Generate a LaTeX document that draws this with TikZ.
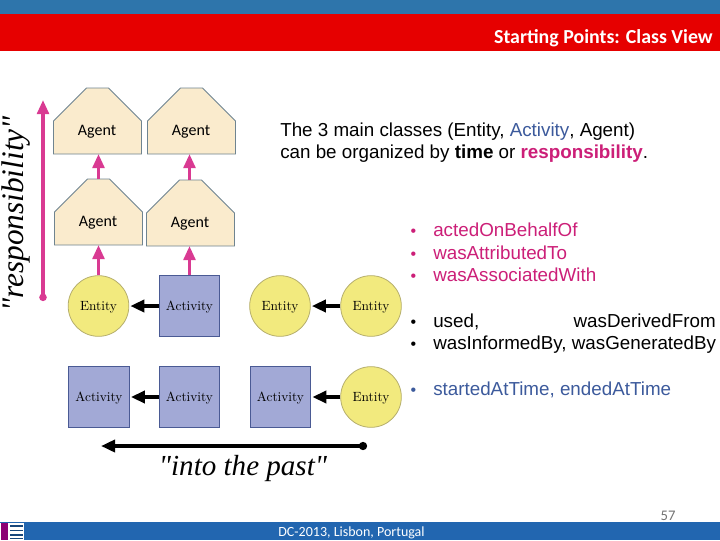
\documentclass[tikz,border=0pt]{standalone}
\usepackage{fontspec}
\setmainfont{Liberation Sans}
\newfontfamily\calfam{Carlito}
\newfontfamily\serfam{Liberation Serif}
\newfontfamily\lmfam{Latin Modern Roman}
\usetikzlibrary{arrows.meta}
\definecolor{topblue}{HTML}{2E75AB}
\definecolor{topred}{HTML}{E60000}
\definecolor{footblue}{HTML}{2266B0}
\definecolor{agentfill}{HTML}{FAEBCD}
\definecolor{agentline}{HTML}{6F8490}
\definecolor{entfill}{HTML}{F2EA7E}
\definecolor{entline}{HTML}{B5AE6C}
\definecolor{actfill}{HTML}{A2A9D6}
\definecolor{actline}{HTML}{4A5A94}
\definecolor{pinkar}{HTML}{D93A92}
\definecolor{pinktx}{HTML}{CC1F78}
\definecolor{bluetx}{HTML}{3C5A9C}
\newcommand{\lowtext}[1]{\raisebox{-3.5pt}[0pt][0pt]{#1}}
\tikzset{
  agentpoly/.style={draw=agentline,fill=agentfill,line width=.7pt},
  agentbox/.style={minimum width=66pt,minimum height=49.5pt,inner sep=0pt,outer sep=0pt},
  agentlab/.style={font=\calfam\fontsize{12}{14}\selectfont,inner sep=0pt},
  entity/.style={circle,draw=entline,fill=entfill,line width=.6pt,minimum size=45.5pt,inner sep=0pt,font=\lmfam\fontsize{10}{12}\selectfont},
  activity/.style={rectangle,draw=actline,fill=actfill,line width=.7pt,minimum width=45.5pt,minimum height=45.5pt,inner sep=0pt,font=\lmfam\fontsize{10}{12}\selectfont},
  pinkarrow/.style={draw=pinkar,line width=2.5pt,-{Triangle[length=10.5pt,width=8.7pt]}},
  blackarrow/.style={draw=black,line width=3pt,-{Triangle[length=10.5pt,width=9pt]},shorten >=.8pt},
  bodytext/.style={anchor=base west,inner sep=0pt,font=\fontsize{14.1}{16}\selectfont},
  bul/.style={anchor=base,inner sep=0pt,font=\fontsize{12}{16}\selectfont},
  bigitalic/.style={inner sep=0pt,font=\serfam\itshape\fontsize{21.8}{24}\selectfont},
}
\newcommand{\agentat}[4]{% name, cx, top y, text y
  \draw[agentpoly] (#2-44,#3+33) -- (#2-11,#3) -- (#2+11,#3) -- (#2+44,#3+33) -- (#2+44,#3+66) -- (#2-44,#3+66) -- cycle;
  \node[agentbox] (#1) at (#2,#3+33) {};
  \node[agentlab] (#1t) at (#2-.5,#4+1.5) {Agent};
}
\begin{document}
\begin{tikzpicture}[x=.75pt,y=-.75pt]
\useasboundingbox (0,0) rectangle (720,540);
\fill[white] (0,0) rectangle (720,540);
% bands
\fill[topblue] (0,0) rectangle (720,14);
\fill[topred] (0,14) rectangle (720,51);
\fill[footblue] (0,522) rectangle (720,540);
% logo
\fill[white] (0,523) rectangle (24,540);
\fill[red!55!blue] (1,523) rectangle (8,540);
\foreach \yy in {526,530.5,535,538.5}{\draw[footblue!70!black,line width=.9pt] (10,\yy) -- (23,\yy);}
% title / footer
\node[anchor=base east,inner sep=0pt,text=white,font=\calfam\bfseries\fontsize{14.9}{16}\selectfont] (title) at (713,43) {Starting Points: Class View};
\node[anchor=base,inner sep=0pt,text=white,font=\calfam\fontsize{10.5}{12}\selectfont] (foot) at (351.5,536) {DC-2013, Lisbon, Portugal};
\node[anchor=base,inner sep=0pt,text=black!55,font=\calfam\fontsize{11}{12}\selectfont] (page) at (668,520) {57};
% agents
\agentat{a1}{97.5}{88}{130}
\agentat{a2}{191.5}{88}{130}
\agentat{a3}{98.5}{179}{221}
\agentat{a4}{190.5}{180}{222}
% entities and activities
\node[entity] (e1) at (98.5,306) {\lowtext{Entity}};
\node[activity] (c1) at (189.5,306) {\lowtext{Activity}};
\node[entity] (e2) at (280,306) {\lowtext{Entity}};
\node[entity] (e3) at (371,306) {\lowtext{Entity}};
\node[activity] (c2) at (99,397) {\lowtext{Activity}};
\node[activity] (c3) at (189.5,397) {\lowtext{Activity}};
\node[activity] (c4) at (280.5,397) {\lowtext{Activity}};
\node[entity] (e4) at (371,397) {\lowtext{Entity}};
% pink arrows
\draw[pinkarrow] (a3.north) -- (a3.north |- a1.south);
\draw[pinkarrow] ([xshift=-.75pt]a4.north) -- ([xshift=-.75pt]a4.north |- a2.south);
\draw[pinkarrow] (e1.north) -- (e1.north |- a3.south);
\draw[pinkarrow] (c1.north) -- (c1.north |- a4.south);
% black arrows
\draw[blackarrow] (c1) -- (e1);
\draw[blackarrow] (e3) -- (e2);
\draw[blackarrow] (c3) -- (c2);
\draw[blackarrow] (e4) -- (c4);
% axes
\coordinate (rs) at (43,301);
\coordinate (re) at (43,100);
\coordinate (ts) at (367,446);
\coordinate (te) at (101,446);
\draw[draw=pinkar,line width=2.5pt,{Circle[length=5.5pt,width=5.5pt]}-{Triangle[length=10.5pt,width=8.7pt]}] (rs) -- (re);
\draw[draw=black,line width=3pt,{Circle[length=6pt,width=6pt]}-{Triangle[length=10.5pt,width=9pt]}] (ts) -- (te);
\node[inner sep=0pt,font=\serfam\itshape\fontsize{23.5}{25}\selectfont,rotate=90] (resp) at (16.5,214) {"responsibility"};
\node[bigitalic] (past) at (243,468) {"into the past"};
% right text
\node[bodytext] (l1) at (280,136) {The 3 main classes (Entity, \textcolor{bluetx}{Activity}, Agent)};
\node[bodytext] (l2) at (280,158) {can be organized by \textbf{time} or \textcolor{pinktx}{\textbf{responsibility}}.};
\foreach \nm/\yy/\cc/\tx in {b1/236/pinktx/{actedOnBehalfOf},b2/259/pinktx/{wasAttributedTo},b3/281/pinktx/{wasAssociatedWith},b5/349/black/{wasInformedBy, wasGeneratedBy},b6/395/bluetx/{startedAtTime, endedAtTime}}{
  \node[bul,text=\cc] (\nm d) at (413.5,\yy) {•};
  \node[bodytext,text=\cc] (\nm) at (433,\yy) {\tx};
}
\node[bul] (b4d) at (413.5,327) {•};
\node[bodytext] (b4) at (433,327) {used,};
\node[bodytext,anchor=base east] (b4r) at (716,327) {wasDerivedFrom};
\end{tikzpicture}
\end{document}
